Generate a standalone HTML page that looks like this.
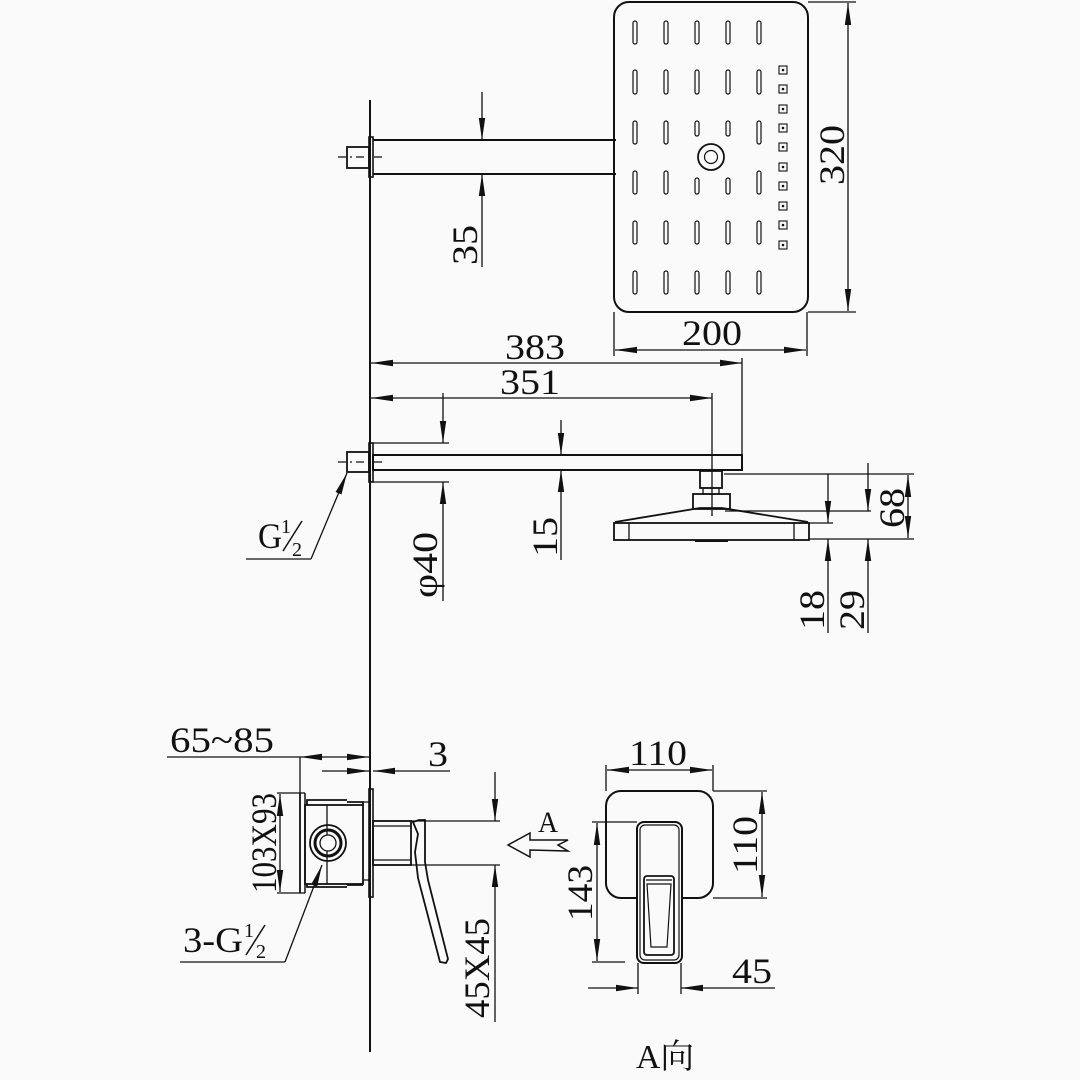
<!DOCTYPE html>
<html><head><meta charset="utf-8"><style>
html,body{margin:0;padding:0;background:#fafafa}
svg{display:block}
text{font-family:"Liberation Serif","Noto Serif CJK SC",serif;fill:#111}
</style></head><body>
<svg width="1080" height="1080" viewBox="0 0 1080 1080" xmlns="http://www.w3.org/2000/svg">
<defs>
<marker id="a" markerUnits="userSpaceOnUse" markerWidth="24" markerHeight="10" refX="22" refY="4" orient="auto-start-reverse">
<path d="M0,0.8 L22,4 L0,7.2 z" fill="#111"/></marker>
</defs>
<rect width="1080" height="1080" fill="#fafafa"/>
<g stroke="#111" fill="none" stroke-width="1.3">
<!-- wall -->
<line x1="370" y1="100" x2="370" y2="1052" stroke-width="2"/>

<!-- top head plan -->
<rect x="614" y="2" width="194" height="310" rx="15" stroke-width="2"/>
<g stroke-width="1.2">
<g id="slotcol">
<rect x="633" y="21" width="4" height="23" rx="2"/>
<rect x="633" y="70" width="4" height="24" rx="2"/>
<rect x="633" y="121" width="4" height="23" rx="2"/>
<rect x="633" y="171" width="4" height="23" rx="2"/>
<rect x="633" y="221" width="4" height="23" rx="2"/>
<rect x="633" y="271" width="4" height="23" rx="2"/>
</g>
<use href="#slotcol" x="31"/>
<use href="#slotcol" x="124"/>
<rect x="695" y="21" width="4" height="23" rx="2"/><rect x="695" y="70" width="4" height="24" rx="2"/>
<rect x="695" y="121" width="4" height="15" rx="2"/><rect x="695" y="178" width="4" height="16" rx="2"/>
<rect x="695" y="221" width="4" height="23" rx="2"/><rect x="695" y="271" width="4" height="23" rx="2"/>
<rect x="726" y="21" width="4" height="23" rx="2"/><rect x="726" y="70" width="4" height="24" rx="2"/>
<rect x="726" y="121" width="4" height="15" rx="2"/><rect x="726" y="178" width="4" height="16" rx="2"/>
<rect x="726" y="221" width="4" height="23" rx="2"/><rect x="726" y="271" width="4" height="23" rx="2"/>
<circle cx="711" cy="157" r="13" stroke-width="1.8"/><circle cx="711" cy="157" r="6.5"/>
</g>
<g stroke-width="1.1">
<rect x="779" y="66" width="8" height="8"/><rect x="779" y="85" width="8" height="8"/>
<rect x="779" y="105" width="8" height="8"/><rect x="779" y="124" width="8" height="8"/>
<rect x="779" y="143" width="8" height="8"/><rect x="779" y="163" width="8" height="8"/>
<rect x="779" y="182" width="8" height="8"/><rect x="779" y="202" width="8" height="8"/>
<rect x="779" y="221" width="8" height="8"/><rect x="779" y="241" width="8" height="8"/>
</g>
<g fill="#111" stroke="none">
<circle cx="783" cy="70" r="1.3"/><circle cx="783" cy="89" r="1.3"/><circle cx="783" cy="109" r="1.3"/><circle cx="783" cy="128" r="1.3"/><circle cx="783" cy="147" r="1.3"/><circle cx="783" cy="167" r="1.3"/><circle cx="783" cy="186" r="1.3"/><circle cx="783" cy="206" r="1.3"/><circle cx="783" cy="225" r="1.3"/><circle cx="783" cy="245" r="1.3"/>
</g>
<!-- top arm -->
<line x1="373" y1="140" x2="616" y2="140" stroke-width="2"/>
<line x1="373" y1="174" x2="616" y2="174" stroke-width="2"/>
<rect x="369" y="137" width="4" height="40" stroke-width="1.6"/>
<rect x="347" y="147" width="22" height="21" stroke-width="1.8"/>
<line x1="338" y1="157" x2="384" y2="157" stroke-dasharray="8,4,2,4"/>

<!-- 35 -->
<line x1="482" y1="92" x2="482" y2="140" marker-end="url(#a)"/>
<line x1="482" y1="174" x2="482" y2="267" marker-start="url(#a)"/>
<!-- 320 -->
<line x1="808" y1="2" x2="856" y2="2"/><line x1="808" y1="312" x2="856" y2="312"/>
<line x1="848" y1="3" x2="848" y2="311" marker-start="url(#a)" marker-end="url(#a)"/>
<!-- 200 -->
<line x1="614" y1="312" x2="614" y2="356"/><line x1="807" y1="312" x2="807" y2="356"/>
<line x1="615" y1="350" x2="806" y2="350" marker-start="url(#a)" marker-end="url(#a)"/>
<!-- 383 351 -->
<line x1="371" y1="363" x2="742" y2="363" marker-start="url(#a)" marker-end="url(#a)"/>
<line x1="371" y1="398" x2="712" y2="398" marker-start="url(#a)" marker-end="url(#a)"/>
<line x1="742" y1="358" x2="742" y2="455"/>
<line x1="712" y1="393" x2="712" y2="516"/>

<!-- lower arm -->
<rect x="373" y="455" width="369" height="15" stroke-width="2"/>
<rect x="369" y="443" width="4" height="39" stroke-width="1.6"/>
<rect x="347" y="452" width="22" height="20" stroke-width="1.8"/>
<line x1="338" y1="462" x2="384" y2="462" stroke-dasharray="8,4,2,4"/>
<line x1="373" y1="443" x2="449" y2="443"/><line x1="373" y1="482" x2="449" y2="482"/>
<line x1="443" y1="393" x2="443" y2="443" marker-end="url(#a)"/>
<line x1="443" y1="482" x2="443" y2="601" marker-start="url(#a)"/>
<line x1="561" y1="420" x2="561" y2="455" marker-end="url(#a)"/>
<line x1="561" y1="470" x2="561" y2="560" marker-start="url(#a)"/>
<!-- G1/2 leader -->
<line x1="347" y1="473" x2="311" y2="559" marker-start="url(#a)"/>
<line x1="311" y1="559" x2="246" y2="559"/>

<!-- side head -->
<rect x="700" y="471" width="22" height="17" stroke-width="1.8"/>
<rect x="703" y="488" width="16" height="6"/>
<rect x="693" y="494" width="37" height="15" stroke-width="1.8"/>
<path d="M615,522 L700,508 L722,508 L808,522" stroke-width="1.8"/>
<rect x="614" y="523" width="195" height="17" stroke-width="1.8"/>
<line x1="629" y1="523" x2="629" y2="540"/><line x1="794" y1="523" x2="794" y2="540"/>
<line x1="695" y1="541" x2="728" y2="541" stroke-width="2"/>
<!-- 18 29 68 -->
<line x1="724" y1="474" x2="914" y2="474"/>
<line x1="725" y1="511" x2="871" y2="511"/>
<line x1="809" y1="523" x2="833" y2="523"/>
<line x1="809" y1="539" x2="914" y2="539"/>
<line x1="828" y1="474" x2="828" y2="523" marker-end="url(#a)"/>
<line x1="828" y1="539" x2="828" y2="633" marker-start="url(#a)"/>
<line x1="868" y1="463" x2="868" y2="511" marker-end="url(#a)"/>
<line x1="868" y1="539" x2="868" y2="633" marker-start="url(#a)"/>
<line x1="908" y1="475" x2="908" y2="538" marker-start="url(#a)" marker-end="url(#a)"/>

<!-- 65~85 / 3 -->
<line x1="167" y1="757" x2="300" y2="757"/>
<line x1="300" y1="757" x2="369" y2="757" marker-start="url(#a)" marker-end="url(#a)"/>
<line x1="300" y1="757" x2="300" y2="793"/>
<line x1="322" y1="771" x2="369" y2="771" marker-end="url(#a)"/>
<line x1="373" y1="771" x2="450" y2="771" marker-start="url(#a)"/>

<!-- valve body -->
<rect x="369" y="789" width="4" height="108" stroke-width="1.6"/>
<line x1="300" y1="793" x2="300" y2="893" stroke-width="1.8"/>
<line x1="300" y1="793" x2="305" y2="793"/><line x1="300" y1="893" x2="305" y2="893"/>
<rect x="305" y="805" width="58" height="79" stroke-width="1.8"/>
<line x1="305" y1="793" x2="305" y2="893" stroke-width="1.5"/>
<path d="M307,805 L307,800 L347,800 M347,802 L363,802 L363,805" stroke-width="1.8"/>
<path d="M307,884 L307,887 L347,887 M347,885 L363,885" stroke-width="1.8"/>
<path d="M363,802 L369,802 M363,880 L369,880"/>
<line x1="327" y1="805" x2="327" y2="884"/>
<circle cx="328" cy="843" r="18" stroke-width="1.8"/>
<circle cx="328" cy="843" r="13" stroke-width="3"/>
<circle cx="328" cy="843" r="8" fill="#fafafa"/>
<!-- 103X93 -->
<line x1="277" y1="793" x2="300" y2="793"/><line x1="277" y1="893" x2="300" y2="893"/>
<line x1="280" y1="794" x2="280" y2="892" marker-start="url(#a)" marker-end="url(#a)"/>
<!-- 3-G1/2 leader -->
<line x1="322" y1="865" x2="285" y2="962" marker-start="url(#a)"/>
<line x1="285" y1="962" x2="180" y2="962"/>
<!-- cartridge and lever -->
<rect x="373" y="821" width="38" height="44" stroke-width="1.8"/>
<line x1="373" y1="826" x2="411" y2="826"/><line x1="373" y1="860" x2="411" y2="860"/>
<path d="M413,822 L418,834 L415,852 L418,878 L440,962 L446,963 L448,959 L428,880 L425,862 L425,820 L419,820 Z" stroke-width="1.8"/>
<!-- 45X45 -->
<line x1="411" y1="821" x2="500" y2="821"/><line x1="411" y1="865" x2="500" y2="865"/>
<line x1="495" y1="772" x2="495" y2="821" marker-end="url(#a)"/>
<line x1="495" y1="865" x2="495" y2="1022" marker-start="url(#a)"/>

<!-- A arrow -->
<path d="M508,845 L530,833 L530,840 L568,840 L558,845 L568,851 L530,850 L530,857 Z" stroke-width="1.5"/>

<!-- front view -->
<rect x="606" y="791" width="107" height="107" rx="15" stroke-width="2"/>
<rect x="637" y="822" width="45" height="141" rx="7" fill="#fafafa" stroke-width="2"/>
<rect x="640" y="825" width="39" height="135" rx="5" stroke-width="1.2"/>
<rect x="644" y="876" width="30" height="79" rx="3" stroke-width="1.8"/>
<path d="M647,884 L671,884 L667,947 L651,947 Z" stroke-width="1.2"/>
<line x1="646" y1="880" x2="672" y2="880"/>
<!-- 110 top -->
<line x1="606" y1="765" x2="606" y2="791"/><line x1="713" y1="765" x2="713" y2="791"/>
<line x1="607" y1="770" x2="712" y2="770" marker-start="url(#a)" marker-end="url(#a)"/>
<!-- 110 right -->
<line x1="713" y1="791" x2="767" y2="791"/><line x1="713" y1="898" x2="767" y2="898"/>
<line x1="762" y1="792" x2="762" y2="897" marker-start="url(#a)" marker-end="url(#a)"/>
<!-- 143 -->
<line x1="592" y1="822" x2="637" y2="822"/><line x1="592" y1="962" x2="625" y2="962"/>
<line x1="597" y1="823" x2="597" y2="961" marker-start="url(#a)" marker-end="url(#a)"/>
<!-- 45 -->
<line x1="638" y1="963" x2="638" y2="994"/><line x1="681" y1="963" x2="681" y2="994"/>
<line x1="588" y1="988" x2="638" y2="988" marker-end="url(#a)"/>
<line x1="681" y1="988" x2="775" y2="988" marker-start="url(#a)"/>
</g>

<g font-size="36">
<text x="535" y="359" text-anchor="middle" textLength="60" lengthAdjust="spacingAndGlyphs">383</text>
<text x="530" y="394" text-anchor="middle" textLength="60" lengthAdjust="spacingAndGlyphs">351</text>
<text x="712" y="345" text-anchor="middle" textLength="60" lengthAdjust="spacingAndGlyphs">200</text>
<text transform="translate(844,155) rotate(-90)" text-anchor="middle" textLength="60" lengthAdjust="spacingAndGlyphs">320</text>
<text transform="translate(477,245) rotate(-90)" text-anchor="middle" textLength="40" lengthAdjust="spacingAndGlyphs">35</text>
<text transform="translate(437,565) rotate(-90)" text-anchor="middle" textLength="66" lengthAdjust="spacingAndGlyphs">φ40</text>
<text transform="translate(557,537) rotate(-90)" text-anchor="middle" textLength="40" lengthAdjust="spacingAndGlyphs">15</text>
<text transform="translate(824,610) rotate(-90)" text-anchor="middle" textLength="40" lengthAdjust="spacingAndGlyphs">18</text>
<text transform="translate(864,610) rotate(-90)" text-anchor="middle" textLength="40" lengthAdjust="spacingAndGlyphs">29</text>
<text transform="translate(904,508) rotate(-90)" text-anchor="middle" textLength="40" lengthAdjust="spacingAndGlyphs">68</text>
<text x="258" y="548" textLength="24" lengthAdjust="spacingAndGlyphs">G</text>
<text x="170" y="752" textLength="104" lengthAdjust="spacingAndGlyphs">65~85</text>
<text x="428" y="766" textLength="20" lengthAdjust="spacingAndGlyphs">3</text>
<text transform="translate(276,843) rotate(-90)" text-anchor="middle" textLength="100" lengthAdjust="spacingAndGlyphs">103X93</text>
<text x="183" y="952" textLength="60" lengthAdjust="spacingAndGlyphs">3-G</text>
<text transform="translate(489,968) rotate(-90)" text-anchor="middle" textLength="100" lengthAdjust="spacingAndGlyphs">45X45</text>
<text x="538" y="832" font-size="30" textLength="20" lengthAdjust="spacingAndGlyphs">A</text>
<text x="658" y="765" text-anchor="middle" textLength="58" lengthAdjust="spacingAndGlyphs">110</text>
<text transform="translate(757,845) rotate(-90)" text-anchor="middle" textLength="58" lengthAdjust="spacingAndGlyphs">110</text>
<text transform="translate(592,893) rotate(-90)" text-anchor="middle" textLength="56" lengthAdjust="spacingAndGlyphs">143</text>
<text x="732" y="983" textLength="40" lengthAdjust="spacingAndGlyphs">45</text>
<text x="636" y="1068" font-size="34" textLength="58" lengthAdjust="spacingAndGlyphs">A向</text>
</g>
<!-- fractions -->
<g font-size="20">
<text x="281" y="533">1</text><text x="292" y="556">2</text>
<text x="244" y="937">1</text><text x="256" y="958">2</text>
</g>
<g stroke="#111" stroke-width="1.5">
<line x1="283" y1="551" x2="302" y2="521"/>
<line x1="246" y1="955" x2="265" y2="925"/>
</g>
</svg>
</body></html>
